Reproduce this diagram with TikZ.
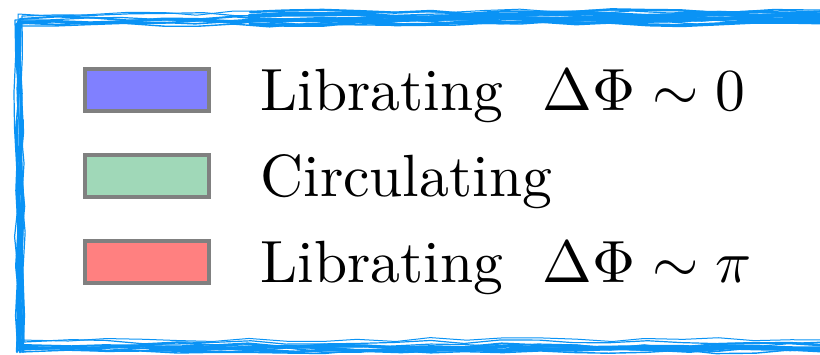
\documentclass[tikz,border=0pt]{standalone}
\usetikzlibrary{decorations.pathmorphing}
\definecolor{frameblue}{HTML}{0A93F5}
\definecolor{libzero}{HTML}{8080FF}
\definecolor{circ}{HTML}{A0D8B8}
\definecolor{libpi}{HTML}{FF8080}
\newcommand{\legtxt}[1]{\scalebox{2.98}{\fontsize{10}{12}\selectfont #1}}
\tikzset{
  swatch/.style={draw=gray, line width=2pt, minimum width=62pt, minimum height=21pt, inner sep=0pt},
  legendtext/.style={anchor=base west, inner sep=0pt},
  sketch/.style={draw=frameblue, decorate, decoration={random steps, segment length=18pt, amplitude=1.2pt}, line cap=round, line join=round}
}
\begin{document}
\begin{tikzpicture}[x=0.5pt,y=-0.5pt]
\useasboundingbox (0,0) rectangle (820,354);
\pgfmathsetseed{7}
% sketchy frame
\foreach \dx/\dy/\w in {0/0/1.4, 2/-3/1.0, -2/2/0.8, 4/-6/0.6, 1/4/0.7, -3/-2/0.6, 3/1/0.9, 0/-8/0.5}{
  \draw[sketch, line width=\w pt] (18+\dx,22+\dy) -- (826,18+\dy) -- (826,348+\dy) -- (20+\dx,348+\dy) -- cycle;
}
% thicker right part of top edge
\foreach \dy/\w in {-4/2.2, 0/2.0, 4/1.6, -8/1.2}{
  \draw[sketch, line width=\w pt] (250,20+\dy) -- (830,19+\dy);
}
% left edge thickening
\foreach \dx/\w in {-3/1.2, 3/1.0, 0/1.4}{
  \draw[sketch, line width=\w pt] (20+\dx,120) -- (20+\dx,352);
}
% bottom edge thickening
\foreach \dy/\w in {2/1.6, 4/1.4}{
  \draw[sketch, line width=\w pt] (150,346+\dy) -- (830,346+\dy);
}
% legend
\node[swatch, fill=libzero] (s1) at (147,90) {};
\node[swatch, fill=circ]    (s2) at (147,176) {};
\node[swatch, fill=libpi]   (s3) at (147,262) {};
\node[legendtext] (t1) at (260,110) {\legtxt{Librating\ \ $\Delta\Phi\sim 0$}};
\node[legendtext] (t2) at (260,196) {\legtxt{Circulating}};
\node[legendtext] (t3) at (260,282) {\legtxt{Librating\ \ $\Delta\Phi\sim \pi$}};
\end{tikzpicture}
\end{document}
